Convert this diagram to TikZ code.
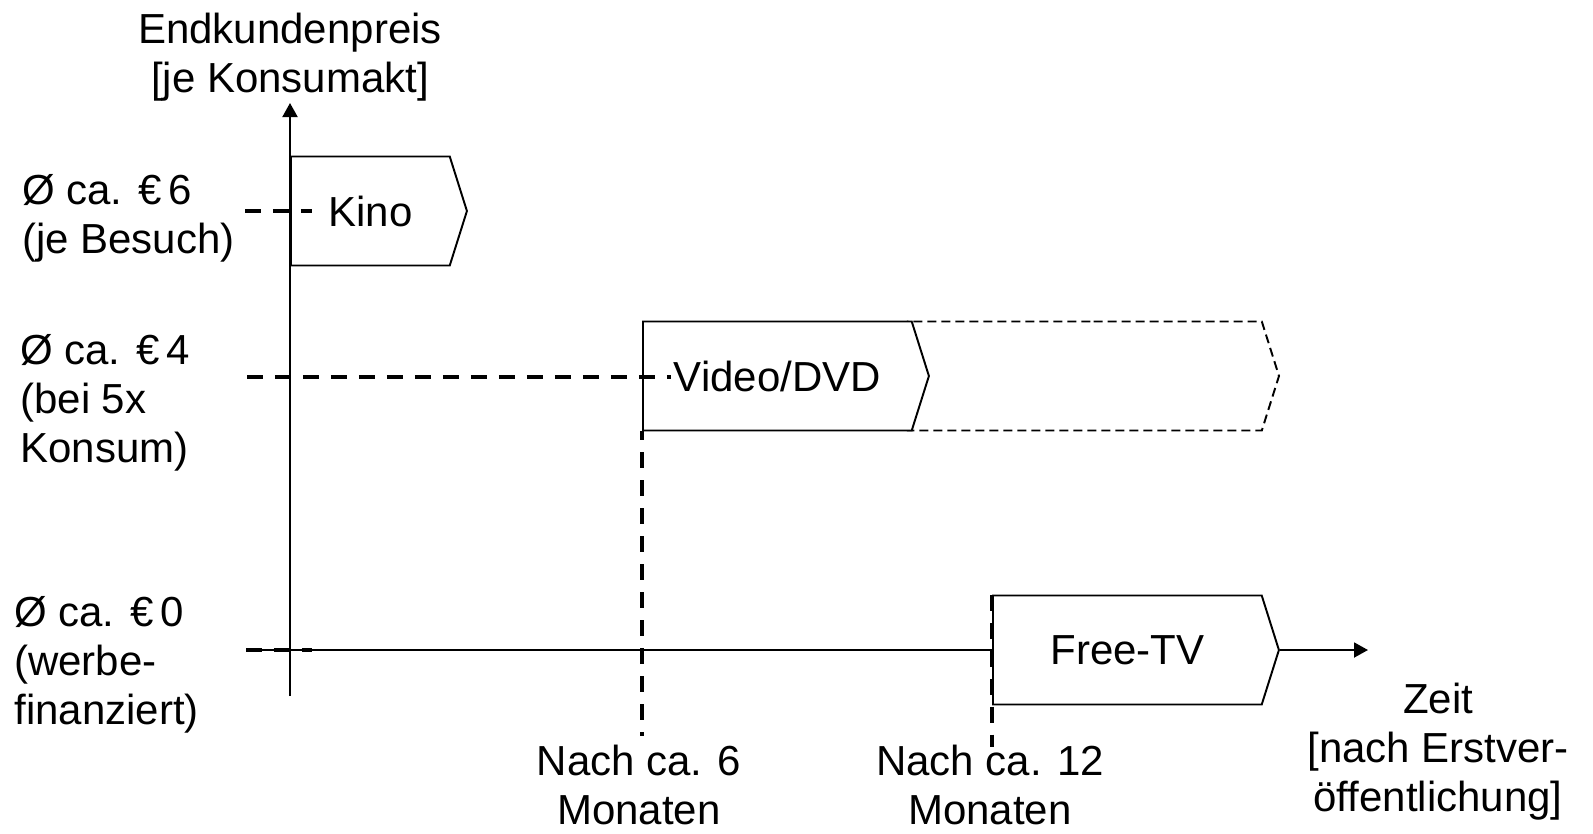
\documentclass[tikz,border=0pt]{standalone}
\usepackage{fontspec}
\setmainfont{Liberation Sans}
\usetikzlibrary{shapes.symbols, arrows.meta, positioning}

\begin{document}
\begin{tikzpicture}[
  x=0.02cm, y=0.02cm,
  font=\fontsize{23.9pt}{27.9pt}\selectfont,
  kanal/.style={signal, signal to=east, signal pointer angle=145, draw, fill=white,
                line width=1.1pt, minimum height=2.18cm, inner sep=0pt, anchor=west},
  achse/.style={line width=1.1pt},
  pfeil/.style={achse, -{Triangle[length=0.28cm, width=0.3cm]}},
  marke/.style={line width=2.2pt, dash pattern=on 0.32cm off 0.24cm},
  preis/.style={align=left, anchor=west, inner sep=0pt},
  termin/.style={align=center, inner sep=0pt}
]
\useasboundingbox (0,0) rectangle (1593,-833);

% Achsen
\coordinate (y0) at (290,-696);
\coordinate (y1) at (290,-103);
\coordinate (x0) at (246,-650);
\coordinate (x1) at (1368,-650);
\draw[pfeil] (y0) -- (y1);
\node[termin] (ylbl) at (290,-57) {Endkundenpreis\\{}[je Konsumakt]};

% Verwertungsfenster
\node[kanal, minimum width=3.52cm] (kino) at (290,-211) {Kino};
\node[kanal, signal from=west, anchor=east, minimum width=7.42cm,
      dash pattern=on 0.18cm off 0.1cm] (dvdweiter) at (1280,-376) {};
\node[kanal, minimum width=5.72cm] (dvd) at (642,-376) {Video/DVD};
\node[kanal, minimum width=5.72cm] (ftv) at (992,-650) {Free-TV};

\draw[achse] (x0) -- (ftv.west);
\draw[pfeil] (ftv.east) -- (x1);
\node[termin] (zeit) at (1438,-752) {Zeit\\{}[nach Erstver-\\öffentlichung]};

% Preisniveaus
\node[preis] (l6) at (22,-218) {Ø ca. €\,6\\(je Besuch)};
\node[preis] (l4) at (20,-403) {Ø ca. €\,4\\(bei 5x\\Konsum)};
\node[preis] (l0) at (14,-665) {Ø ca. €\,0\\(werbe-\\finanziert)};

\coordinate (p6a) at (245,-211);
\coordinate (p6b) at (312,-211);
\coordinate (p4a) at (247,-377);
\coordinate (p4b) at (671,-377);
\coordinate (p0a) at (246,-650);
\coordinate (p0b) at (312,-650);
\draw[marke] (p6a) -- (p6b);
\draw[marke] (p4a) -- (p4b);
\draw[marke] (p0a) -- (p0b);

% Zeitpunkte
\coordinate (m6) at (642,-736);
\coordinate (m12) at (992,-747);
\draw[marke, dash phase=0.14cm] (dvd.west |- dvd.south) -- (m6);
\draw[marke] (ftv.west |- ftv.north) -- (m12);
\node[termin] (t6) at (639,-785) {Nach ca. 6\\Monaten};
\node[termin] (t12) at (990,-785) {Nach ca. 12\\Monaten};

\end{tikzpicture}
\end{document}
